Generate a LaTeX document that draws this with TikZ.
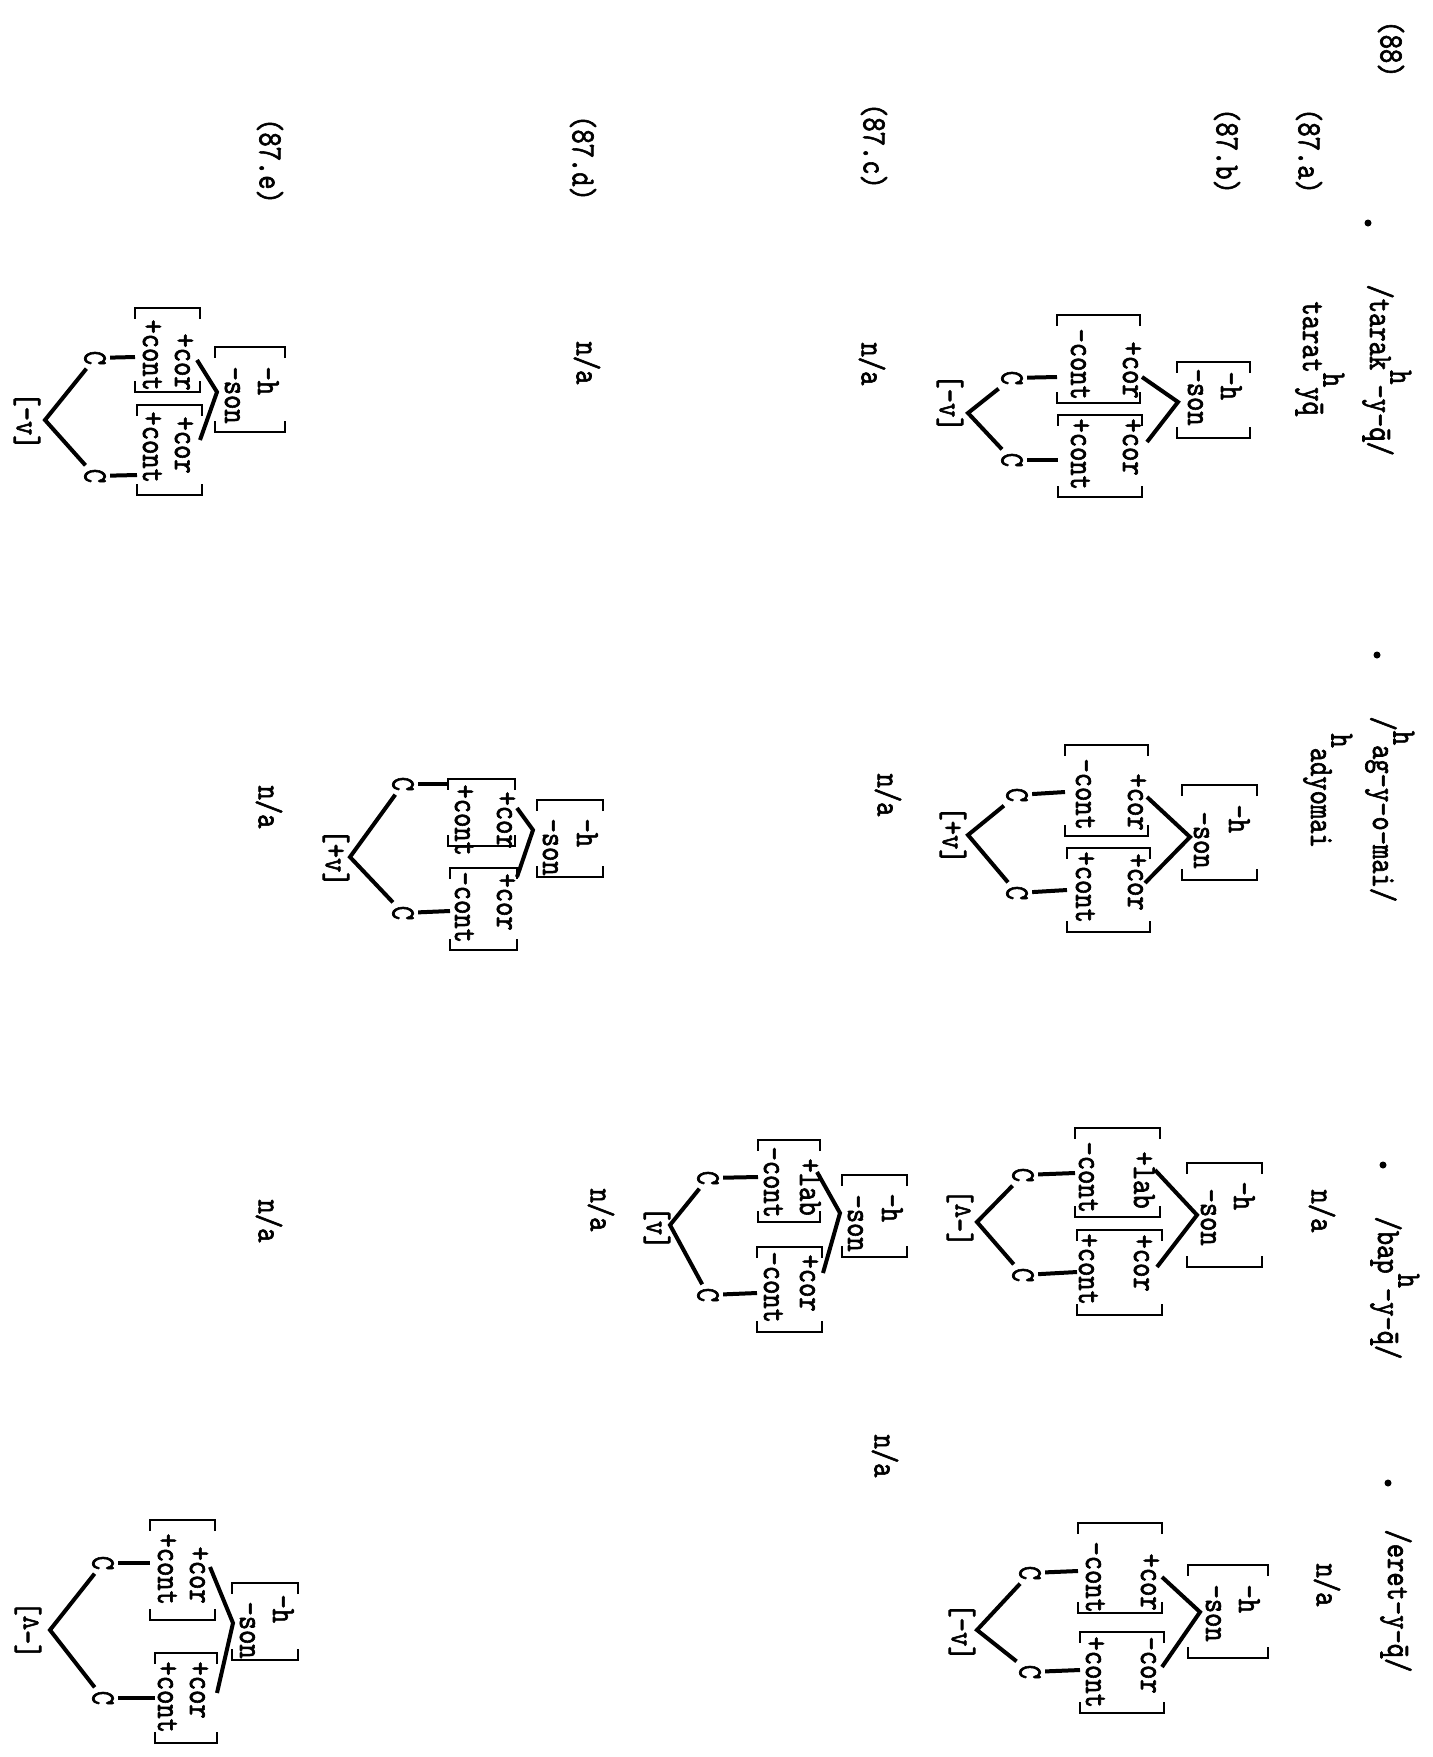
\documentclass[tikz,border=0pt]{standalone}
\usepackage{fontspec}
\newfontfamily\twfont{lmmono10-regular.otf}[FakeBold=2]
\usetikzlibrary{calc}

\tikzset{
  txt/.style={rotate=-90, xscale=0.8, inner sep=0.75pt, font=\twfont\fontsize{17}{20}\selectfont},
  txtud/.style={rotate=90, xscale=0.8, inner sep=0.75pt, font=\twfont\fontsize{17}{20}\selectfont},
  feat/.style={txt, anchor=base west},
  cnode/.style={txt, inner sep=2pt},
  brk/.style={line width=1.4pt},
  arm/.style={line width=2pt},
  stem/.style={line width=2pt},
}
\newcommand{\hup}{\raisebox{0.6em}{h}}
\newcommand{\qbar}{\ooalign{q\cr\hidewidth\char"AF\hidewidth\cr}}

\begin{document}
\begin{tikzpicture}[x=0.5pt,y=0.5pt,yscale=-1]
\useasboundingbox (0,0) rectangle (1433,1757);

% Row labels
\node[txt] (n88) at (1391,49) {(88)};
\node[txt] (l87a) at (1309,151) {(87.a)};
\node[txt] (l87b) at (1227,151) {(87.b)};
\node[txt] (l87c) at (874,146) {(87.c)};
\node[txt] (l87d) at (583,158) {(87.d)};
\node[txt] (l87e) at (270,161) {(87.e)};

% Bullets
\fill (1368,223) circle (3.5);
\fill (1377,655) circle (3.5);
\fill (1383,1165) circle (3.5);
\fill (1388,1483) circle (3.5);

% Text Node: forms
\node[feat] (fa1) at (1370,283) {/tarak\hup-y-\qbar/};
\node[feat] (fb1) at (1303,300) {tarat\hup{}y\qbar};
\node[feat] (fa2) at (1373,715) {/\hup{}ag-y-o-mai/};
\node[feat] (fb2) at (1311,732) {\hup{}adyomai};
\node[feat] (fa3) at (1378,1215) {/bap\hup-y-\qbar/};
\node[txt] (fb3) at (1322,1211) {n/a};
\node[feat] (fa4) at (1388,1528) {/eret-y-\qbar/};
\node[txt] (fb4) at (1327,1585) {n/a};

% Text Node: n/a
\node[txt] (na1) at (872,364) {n/a};
\node[txt] (na2) at (888,795) {n/a};
\node[txt] (na3) at (885,1456) {n/a};
\node[txt] (na4) at (587,363) {n/a};
\node[txt] (na5) at (601,1210) {n/a};
\node[txt] (na6) at (269,807) {n/a};
\node[txt] (na7) at (269,1221) {n/a};

%%% (87.b) /tarak/
\draw[brk] (1250,373) -- (1250,362) -- (1177,362) -- (1177,373) (1250,427) -- (1250,438) -- (1177,438) -- (1177,427);
\node[feat] (h1) at (1221,370) {-h};
\node[feat] (s1) at (1188,367) {-son};
\coordinate (t1) at (1178,402);
\coordinate (t1a) at (1142,377);
\coordinate (t1b) at (1147,442);
\draw[arm] (t1a) -- (t1) -- (t1b);
\draw[brk] (1140,326) -- (1140,315) -- (1057,315) -- (1057,326) (1140,392) -- (1140,403) -- (1057,403) -- (1057,392);
\node[feat] (p1a) at (1123,340) {+cor};
\node[feat] (q1a) at (1071,327) {-cont};
\draw[brk] (1142,426) -- (1142,415) -- (1058,415) -- (1058,426) (1142,486) -- (1142,497) -- (1058,497) -- (1058,486);
\node[feat] (p1b) at (1123,417) {+cor};
\node[feat] (q1b) at (1071,417) {+cont};
\coordinate (m1a) at (1057,377);
\coordinate (m1b) at (1058,460);
\node[cnode] (c1a) at (1012,378) {C};
\node[cnode] (c1b) at (1012,460) {C};
\draw[stem] (c1a) -- (m1a);
\draw[stem] (c1b) -- (m1b);
\coordinate (r1) at (968,413);
\draw[arm] (c1a) -- (r1) -- (c1b);
\node[txt] (v1) at (950,403) {[-v]};

%%% (87.b) /ag-y-o-mai/
\draw[brk] (1257,796) -- (1257,785) -- (1182,785) -- (1182,796) (1257,869) -- (1257,880) -- (1182,880) -- (1182,869);
\node[feat] (h2) at (1229,803) {-h};
\node[feat] (s2) at (1194,810) {-son};
\coordinate (t2) at (1190,837);
\coordinate (t2a) at (1147,797);
\coordinate (t2b) at (1145,883);
\draw[arm] (t2a) -- (t2) -- (t2b);
\draw[brk] (1148,756) -- (1148,745) -- (1065,745) -- (1065,756) (1148,825) -- (1148,836) -- (1065,836) -- (1065,825);
\node[feat] (p2a) at (1128,772) {+cor};
\node[feat] (q2a) at (1076,757) {-cont};
\draw[brk] (1150,859) -- (1150,848) -- (1067,848) -- (1067,859) (1150,921) -- (1150,932) -- (1067,932) -- (1067,921);
\node[feat] (p2b) at (1128,852) {+cor};
\node[feat] (q2b) at (1076,850) {+cont};
\coordinate (m2a) at (1065,792);
\coordinate (m2b) at (1067,890);
\node[cnode] (c2a) at (1017,795) {C};
\node[cnode] (c2b) at (1017,893) {C};
\draw[stem] (c2a) -- (m2a);
\draw[stem] (c2b) -- (m2b);
\coordinate (r2) at (968,835);
\draw[arm] (c2a) -- (r2) -- (c2b);
\node[txt] (v2) at (953,835) {[+v]};

%%% (87.b) /bap-y-q/
\draw[brk] (1262,1174) -- (1262,1163) -- (1187,1163) -- (1187,1174) (1262,1256) -- (1262,1267) -- (1187,1267) -- (1187,1256);
\node[feat] (h3) at (1234,1180) {-h};
\node[feat] (s3) at (1201,1187) {-son};
\coordinate (t3) at (1197,1215);
\coordinate (t3a) at (1155,1170);
\coordinate (t3b) at (1157,1267);
\draw[arm] (t3a) -- (t3) -- (t3b);
\draw[brk] (1160,1139) -- (1160,1128) -- (1075,1128) -- (1075,1139) (1160,1206) -- (1160,1217) -- (1075,1217) -- (1075,1206);
\node[feat] (p3a) at (1134,1150) {+lab};
\node[feat] (q3a) at (1079,1140) {-cont};
\draw[brk] (1162,1241) -- (1162,1230) -- (1077,1230) -- (1077,1241) (1162,1304) -- (1162,1315) -- (1077,1315) -- (1077,1304);
\node[feat] (p3b) at (1134,1233) {+cor};
\node[feat] (q3b) at (1079,1232) {+cont};
\coordinate (m3a) at (1075,1173);
\coordinate (m3b) at (1077,1272);
\node[cnode] (c3a) at (1023,1175) {C};
\node[cnode] (c3b) at (1023,1275) {C};
\draw[stem] (c3a) -- (m3a);
\draw[stem] (c3b) -- (m3b);
\coordinate (r3) at (977,1222);
\draw[arm] (c3a) -- (r3) -- (c3b);
\node[txtud] (v3) at (960,1218) {[-v]};

%%% (87.b) /eret-y-q/
\draw[brk] (1268,1576) -- (1268,1565) -- (1188,1565) -- (1188,1576) (1268,1647) -- (1268,1658) -- (1188,1658) -- (1188,1647);
\node[feat] (h4) at (1239,1583) {-h};
\node[feat] (s4) at (1206,1583) {-son};
\coordinate (t4) at (1200,1612);
\coordinate (t4a) at (1162,1577);
\coordinate (t4b) at (1162,1667);
\draw[arm] (t4a) -- (t4) -- (t4b);
\draw[brk] (1162,1534) -- (1162,1523) -- (1078,1523) -- (1078,1534) (1162,1602) -- (1162,1613) -- (1078,1613) -- (1078,1602);
\node[feat] (p4a) at (1141,1552) {+cor};
\node[feat] (q4a) at (1086,1540) {-cont};
\draw[brk] (1164,1643) -- (1164,1632) -- (1080,1632) -- (1080,1643) (1164,1702) -- (1164,1713) -- (1080,1713) -- (1080,1702);
\node[feat] (p4b) at (1141,1635) {-cor};
\node[feat] (q4b) at (1086,1635) {+cont};
\coordinate (m4a) at (1078,1571);
\coordinate (m4b) at (1080,1670);
\node[cnode] (c4a) at (1030,1573) {C};
\node[cnode] (c4b) at (1030,1672) {C};
\draw[stem] (c4a) -- (m4a);
\draw[stem] (c4b) -- (m4b);
\coordinate (r4) at (977,1630);
\draw[arm] (c4a) -- (r4) -- (c4b);
\node[txt] (v4) at (962,1632) {[-v]};

%%% (87.c) /bap-y-q/
\draw[brk] (907,1186) -- (907,1175) -- (842,1175) -- (842,1186) (907,1246) -- (907,1257) -- (842,1257) -- (842,1246);
\node[feat] (h5) at (882,1192) {-h};
\node[feat] (s5) at (848,1193) {-son};
\coordinate (t5) at (840,1213);
\coordinate (t5a) at (817,1172);
\coordinate (t5b) at (823,1273);
\draw[arm] (t5a) -- (t5) -- (t5b);
\draw[brk] (820,1151) -- (820,1140) -- (758,1140) -- (758,1151) (820,1211) -- (820,1222) -- (758,1222) -- (758,1211);
\node[feat] (p5a) at (800,1157) {+lab};
\node[feat] (q5a) at (764,1145) {-cont};
\draw[brk] (822,1258) -- (822,1247) -- (757,1247) -- (757,1258) (822,1321) -- (822,1332) -- (757,1332) -- (757,1321);
\node[feat] (p5b) at (800,1253) {+cor};
\node[feat] (q5b) at (764,1250) {-cont};
\coordinate (m5a) at (758,1177);
\coordinate (m5b) at (757,1293);
\node[cnode] (c5a) at (708,1178) {C};
\node[cnode] (c5b) at (708,1295) {C};
\draw[stem] (c5a) -- (m5a);
\draw[stem] (c5b) -- (m5b);
\coordinate (r5) at (670,1225);
\draw[arm] (c5a) -- (r5) -- (c5b);
\node[txt] (v5) at (657,1228) {[v]};

%%% (87.d) /ag-y-o-mai/
\draw[brk] (603,811) -- (603,800) -- (537,800) -- (537,811) (603,866) -- (603,877) -- (537,877) -- (537,866);
\node[feat] (h6) at (577,817) {-h};
\node[feat] (s6) at (543,817) {-son};
\coordinate (t6) at (533,830);
\coordinate (t6a) at (517,808);
\coordinate (t6b) at (517,877);
\draw[arm] (t6a) -- (t6) -- (t6b);
\draw[brk] (515,790) -- (515,779) -- (448,779) -- (448,790) (515,835) -- (515,846) -- (448,846) -- (448,835);
\node[feat] (p6a) at (497,790) {+cor};
\node[feat] (q6a) at (455,783) {+cont};
\draw[brk] (517,879) -- (517,868) -- (450,868) -- (450,879) (517,939) -- (517,950) -- (450,950) -- (450,939);
\node[feat] (p6b) at (497,872) {+cor};
\node[feat] (q6b) at (455,870) {-cont};
\coordinate (m6a) at (448,784);
\coordinate (m6b) at (450,911);
\node[cnode] (c6a) at (403,784) {C};
\node[cnode] (c6b) at (403,913) {C};
\draw[stem] (c6a) -- (m6a);
\draw[stem] (c6b) -- (m6b);
\coordinate (r6) at (350,857);
\draw[arm] (c6a) -- (r6) -- (c6b);
\node[txt] (v6) at (336,858) {[+v]};

%%% (87.e) /tarak/
\draw[brk] (285,358) -- (285,347) -- (215,347) -- (215,358) (285,421) -- (285,432) -- (215,432) -- (215,421);
\node[feat] (h7) at (258,365) {-h};
\node[feat] (s7) at (225,365) {-son};
\coordinate (t7) at (217,392);
\coordinate (t7a) at (197,360);
\coordinate (t7b) at (200,440);
\draw[arm] (t7a) -- (t7) -- (t7b);
\draw[brk] (200,319) -- (200,308) -- (135,308) -- (135,319) (200,381) -- (200,392) -- (135,392) -- (135,381);
\node[feat] (p7a) at (175,332) {+cor};
\node[feat] (q7a) at (143,318) {+cont};
\draw[brk] (202,416) -- (202,405) -- (137,405) -- (137,416) (202,484) -- (202,495) -- (137,495) -- (137,484);
\node[feat] (p7b) at (175,415) {+cor};
\node[feat] (q7b) at (143,410) {+cont};
\coordinate (m7a) at (135,357);
\coordinate (m7b) at (137,475);
\node[cnode] (c7a) at (95,358) {C};
\node[cnode] (c7b) at (95,476) {C};
\draw[stem] (c7a) -- (m7a);
\draw[stem] (c7b) -- (m7b);
\coordinate (r7) at (45,420);
\draw[arm] (c7a) -- (r7) -- (c7b);
\node[txt] (v7) at (27,421) {[-v]};

%%% (87.e) /eret-y-q/
\draw[brk] (298,1594) -- (298,1583) -- (232,1583) -- (232,1594) (298,1649) -- (298,1660) -- (232,1660) -- (232,1649);
\node[feat] (h8) at (273,1593) {-h};
\node[feat] (s8) at (240,1600) {-son};
\coordinate (t8) at (233,1623);
\coordinate (t8a) at (210,1567);
\coordinate (t8b) at (217,1693);
\draw[arm] (t8a) -- (t8) -- (t8b);
\draw[brk] (215,1531) -- (215,1520) -- (150,1520) -- (150,1531) (215,1609) -- (215,1620) -- (150,1620) -- (150,1609);
\node[feat] (p8a) at (190,1545) {+cor};
\node[feat] (q8a) at (158,1532) {+cont};
\draw[brk] (217,1664) -- (217,1653) -- (155,1653) -- (155,1664) (217,1732) -- (217,1743) -- (155,1743) -- (155,1732);
\node[feat] (p8b) at (190,1660) {+cor};
\node[feat] (q8b) at (158,1660) {+cont};
\coordinate (m8a) at (150,1563);
\coordinate (m8b) at (155,1698);
\node[cnode] (c8a) at (103,1563) {C};
\node[cnode] (c8b) at (103,1698) {C};
\draw[stem] (c8a) -- (m8a);
\draw[stem] (c8b) -- (m8b);
\coordinate (r8) at (50,1630);
\draw[arm] (c8a) -- (r8) -- (c8b);
\node[txtud] (v8) at (28,1630) {[-v]};

\end{tikzpicture}
\end{document}
